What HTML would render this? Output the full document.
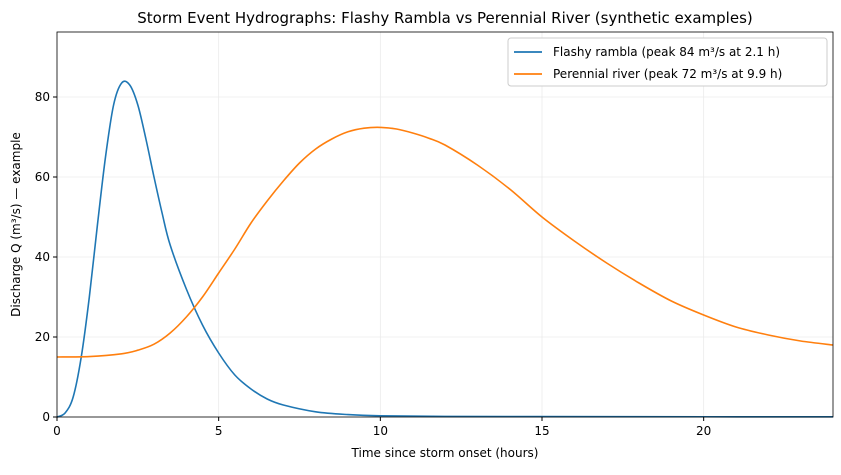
<!DOCTYPE html>
<html><head><meta charset="utf-8"><style>
body{margin:0;background:#fff;font-family:"Liberation Sans","DejaVu Sans",sans-serif;}
svg text{font-family:"DejaVu Sans","Liberation Sans",sans-serif;}
</style></head><body>
<svg id="c" width="841" height="470">
<rect width="841" height="470" fill="#fff"/>
<text x="445" y="23" text-anchor="middle" font-size="15">Storm Event Hydrographs: Flashy Rambla vs Perennial River (synthetic examples)</text>
<g id="grid"></g><g id="series"></g><g id="axes"></g>
</svg>
<script>
const flashyT=[0,0.25,0.5,0.75,1,1.25,1.5,1.75,2,2.25,2.5,2.75,3,3.25,3.5,4,4.5,5,5.5,6,6.5,7,8,9,10,12,15,20,24];
const flashyQ=[0,1,5,15,30,48,65,78,83.5,83,78,69.5,60,51,43,32,23,16,10.5,7,4.5,3,1.3,0.6,0.3,0.15,0.1,0.06,0.05];
const riverT=[0,1,2,2.5,3,3.5,4,4.5,5,5.5,6,6.5,7,7.5,8,8.5,9,9.5,10,10.5,11,11.5,12,13,14,15,16,17,18,19,20,21,22,23,24];
const riverQ=[15,15.1,15.8,16.7,18.2,21,25,30,36,42,48.5,54,59,63.5,67,69.5,71.3,72.2,72.4,72,71,69.7,68,63,57,50,44,38.5,33.5,29,25.5,22.5,20.5,19,18];
const xTicks=[0,5,10,15,20];
const yTicks=[0,20,40,60,80];
const L=57,R=833,T=32,B=417,XMAX=24,YMAX=96.25;
const sx=t=>L+(R-L)*t/XMAX, sy=q=>B-(B-T)*q/YMAX;
const NS="http://www.w3.org/2000/svg";
function mk(tag,parent,attrs){const e=document.createElementNS(NS,tag);for(const k in attrs)e.setAttribute(k,attrs[k]);parent.appendChild(e);return e;}
const grid=document.getElementById('grid'),axes=document.getElementById('axes'),ser=document.getElementById('series');
xTicks.forEach(v=>{
 const g=mk('line',grid,{x1:sx(v),x2:sx(v),y1:T,y2:B,stroke:'#ebebeb','stroke-width':0.8});
 
 
 mk('line',axes,{x1:sx(v),x2:sx(v),y1:B,y2:B+4,stroke:'#000'});
 const t=mk('text',axes,{x:sx(v),y:B+18,'text-anchor':'middle','font-size':12});t.textContent=v;
 
 
});
yTicks.forEach(v=>{
 const g=mk('line',grid,{x1:L,x2:R,y1:sy(v),y2:sy(v),stroke:'#ebebeb','stroke-width':0.8});
 
 
 mk('line',axes,{x1:L-4,x2:L,y1:sy(v),y2:sy(v),stroke:'#000'});
 const t=mk('text',axes,{x:L-7,y:sy(v)+4,'text-anchor':'end','font-size':12});t.textContent=v;
 
 
});
const fr=mk('rect',axes,{x:L,y:T,width:R-L,height:B-T,fill:'none',stroke:'#000','stroke-width':0.8});


function path(ts,qs){
 const p=ts.map((t,i)=>[sx(t),sy(qs[i])]);let d='M'+p[0][0]+','+p[0][1];
 for(let i=0;i<p.length-1;i++){const p0=p[Math.max(0,i-1)],p1=p[i],p2=p[i+1],p3=p[Math.min(p.length-1,i+2)];
  d+=` C${p1[0]+(p2[0]-p0[0])/6},${p1[1]+(p2[1]-p0[1])/6} ${p2[0]-(p3[0]-p1[0])/6},${p2[1]-(p3[1]-p1[1])/6} ${p2[0]},${p2[1]}`;}
 return d;}
const a=mk('path',ser,{d:path(flashyT,flashyQ),fill:'none',stroke:'#1f77b4','stroke-width':1.6});


const b=mk('path',ser,{d:path(riverT,riverQ),fill:'none',stroke:'#ff7f0e','stroke-width':1.6});


const xl=mk('text',axes,{x:(L+R)/2,y:457,'text-anchor':'middle','font-size':12});xl.textContent='Time since storm onset (hours)';


const yl=mk('text',axes,{x:20,y:(T+B)/2,'text-anchor':'middle','font-size':12,transform:`rotate(-90 20 ${(T+B)/2})`});yl.textContent='Discharge Q (m³/s) — example';


const lg=mk('g',axes,{});


mk('rect',lg,{x:508,y:38,width:319,height:48,rx:3,fill:'#fff',stroke:'#ccc'});
[['#1f77b4','Flashy rambla (peak 84 m³/s at 2.1 h)',52],['#ff7f0e','Perennial river (peak 72 m³/s at 9.9 h)',74]].forEach(([c,s,y])=>{
 mk('line',lg,{x1:514,x2:542,y1:y,y2:y,stroke:c,'stroke-width':1.8});
 const t=mk('text',lg,{x:553,y:y+4,'font-size':12});t.textContent=s;
 
 
});
</script>
</body></html>
